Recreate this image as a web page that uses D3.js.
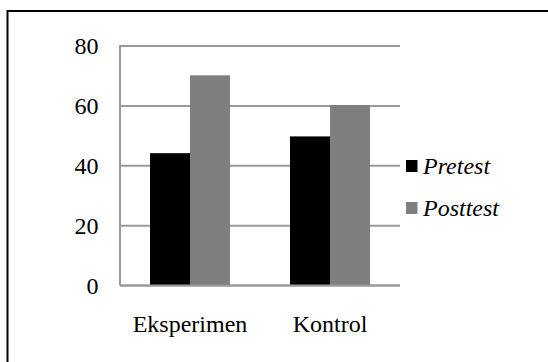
<!DOCTYPE html>
<html>
<head>
<meta charset="utf-8">
<script src="https://cdn.jsdelivr.net/npm/d3@7/dist/d3.min.js"></script>
</head>
<body style="margin:0;background:#fff">
<svg id="chart" width="548" height="362" style="display:block"></svg>
<script>
const categories = ["Eksperimen", "Kontrol"];
const seriesNames = ["Pretest", "Posttest"];
const pretest = [44.2, 49.8];
const posttest = [70.2, 60.3];
const yTicks = [0, 20, 40, 60, 80];
const colors = ["#000000", "#7f7f7f"];
const FONT = '"Liberation Serif", "Times New Roman", Tinos, serif';

const svg = d3.select("#chart");

svg.append("rect")
  .attr("x", 7.5).attr("y", 11)
  .attr("width", 560).attr("height", 370)
  .attr("fill", "none").attr("stroke", "#000").attr("stroke-width", 2);

const plotLeft = 120, plotRight = 400, plotTop = 46, plotBottom = 285.5;

const y = d3.scaleLinear().domain([0, 80]).range([plotBottom, plotTop]);
const x0 = d3.scaleBand().domain(categories).range([plotLeft, plotRight])
  .paddingInner(0.4286).paddingOuter(0.2143);
const x1 = d3.scaleBand().domain(seriesNames).range([0, x0.bandwidth()]);

const gridColor = "#9a9a9a";

svg.append("g").selectAll("line").data(yTicks).join("line")
  .attr("x1", plotLeft).attr("x2", plotRight)
  .attr("y1", d => y(d)).attr("y2", d => y(d))
  .attr("stroke", gridColor).attr("stroke-width", 2);

svg.append("line")
  .attr("x1", plotLeft).attr("x2", plotLeft)
  .attr("y1", y(80) - 1).attr("y2", y(0))
  .attr("stroke", gridColor).attr("stroke-width", 2);

// y tick labels (plain text elements, not axis generator)
svg.append("g").selectAll("text").data(yTicks).join("text")
  .attr("x", plotLeft - 21.5).attr("y", d => y(d)).attr("dy", "0.34em")
  .attr("text-anchor", "end")
  .style("font-family", FONT).style("font-size", "24px")
  .attr("fill", "#000")
  .text(d => d);

const data = categories.map((c, i) => ({ cat: c, vals: [pretest[i], posttest[i]] }));
const groups = svg.append("g").selectAll("g").data(data).join("g")
  .attr("transform", d => `translate(${x0(d.cat)},0)`);
groups.selectAll("rect").data(d => d.vals.map((v, j) => ({ s: seriesNames[j], v, j })))
  .join("rect")
  .attr("x", d => x1(d.s))
  .attr("width", x1.bandwidth())
  .attr("y", d => y(d.v))
  .attr("height", d => y(0) - y(d.v))
  .attr("fill", d => colors[d.j]);

svg.append("line")
  .attr("x1", plotLeft).attr("x2", plotRight)
  .attr("y1", y(0)).attr("y2", y(0))
  .attr("stroke", gridColor).attr("stroke-width", 2);

// category labels
svg.append("g").selectAll("text").data(categories).join("text")
  .attr("x", d => x0(d) + x0.bandwidth() / 2).attr("y", y(0) + 46.5)
  .attr("text-anchor", "middle")
  .style("font-family", FONT).style("font-size", "24px")
  .attr("fill", "#000")
  .text(d => d);

// legend
const legend = svg.append("g").selectAll("g").data(seriesNames).join("g")
  .attr("transform", (d, i) => `translate(406,${160 + i * 42})`);
legend.append("rect")
  .attr("width", 11.5).attr("height", 12)
  .attr("fill", (d, i) => colors[i]);
legend.append("text")
  .attr("x", 17).attr("y", 13.5)
  .style("font-family", FONT).style("font-size", "24px").style("font-style", "italic")
  .attr("fill", "#000")
  .text(d => d);
</script>
</body>
</html>
